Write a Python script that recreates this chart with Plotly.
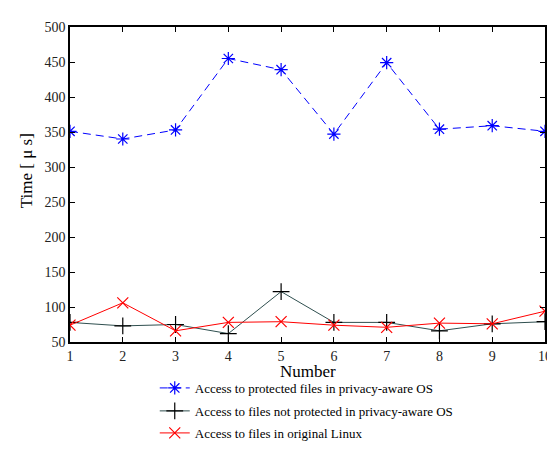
import plotly.graph_objects as go

numbers = [1, 2, 3, 4, 5, 6, 7, 8, 9, 10]
protected_privacy_os = [351, 340, 353, 455, 439, 347, 449, 354, 359, 351]
unprotected_privacy_os = [78, 73, 75, 62, 122, 78, 78, 66, 76, 79]
original_linux = [74, 106, 66, 78, 79, 74, 71, 77, 76, 94]

names = [
    "Access to protected files in privacy-aware OS",
    "Access to files not protected in privacy-aware OS",
    "Access to files in original Linux",
]

W, H = 555, 451
L, R, T, B = 62, 544, 19, 348
pw, ph = R - L, B - T

def px_x(p):
    return (p - L) / pw

def px_y(p):
    return (B - p) / ph

font_family = "Liberation Serif, Times New Roman, serif"

fig = go.Figure()
fig.add_trace(go.Scatter(
    x=numbers, y=protected_privacy_os, name=names[0], mode="lines+markers",
    line=dict(color="#0000ff", width=1, dash="8px,5px"),
    marker=dict(symbol="asterisk-open", size=11, color="#0000ff",
                line=dict(color="#0000ff", width=1.2)),
    legend="legend", showlegend=True,
))
fig.add_trace(go.Scatter(
    x=numbers, y=unprotected_privacy_os, name=names[1], mode="lines+markers",
    line=dict(color="#2f4f4f", width=1),
    marker=dict(symbol="cross-thin-open", size=12, color="#000000",
                line=dict(color="#000000", width=1.2)),
    legend="legend2", showlegend=True,
))
fig.add_trace(go.Scatter(
    x=numbers, y=original_linux, name=names[2], mode="lines+markers",
    line=dict(color="#ff0000", width=1),
    marker=dict(symbol="x-thin-open", size=11, color="#ff0000",
                line=dict(color="#ff0000", width=1.2)),
    legend="legend3", showlegend=True,
))

axis_common = dict(
    showline=True, linecolor="black", linewidth=1.5, mirror="ticks",
    ticks="inside", ticklen=5, tickwidth=1, tickcolor="black",
    showgrid=False, zeroline=False,
    tickfont=dict(family=font_family, size=14, color="#222222"),
)

leg_common = dict(
    bgcolor="rgba(0,0,0,0)", xanchor="left", yanchor="middle",
    font=dict(family=font_family, size=13, color="black"),
    borderwidth=0, visible=True,
)

fig.update_layout(
    width=W, height=H,
    font=dict(family=font_family, color="black"),
    showlegend=True,
    margin=dict(l=L, r=W - R, t=T, b=H - B),
    plot_bgcolor="white", paper_bgcolor="white",
    xaxis=dict(range=[1, 10], dtick=1, **axis_common),
    yaxis=dict(range=[50, 500], dtick=50, **axis_common),
    legend=dict(x=px_x(148), y=px_y(396), **leg_common),
    legend2=dict(x=px_x(148), y=px_y(420), **leg_common),
    legend3=dict(x=px_x(148), y=px_y(443), **leg_common),
    annotations=[
        dict(text="Time [ \u03bc s]", xref="paper", yref="paper",
             x=px_x(18), y=px_y(169), xanchor="center", yanchor="middle",
             textangle=-90, showarrow=False,
             font=dict(family=font_family, size=17, color="black")),
        dict(text="Number", xref="paper", yref="paper",
             x=px_x(303), y=px_y(368), xanchor="center", yanchor="top",
             showarrow=False, borderpad=0,
             font=dict(family=font_family, size=17, color="black")),
    ],
)

fig.write_html("out.html")
